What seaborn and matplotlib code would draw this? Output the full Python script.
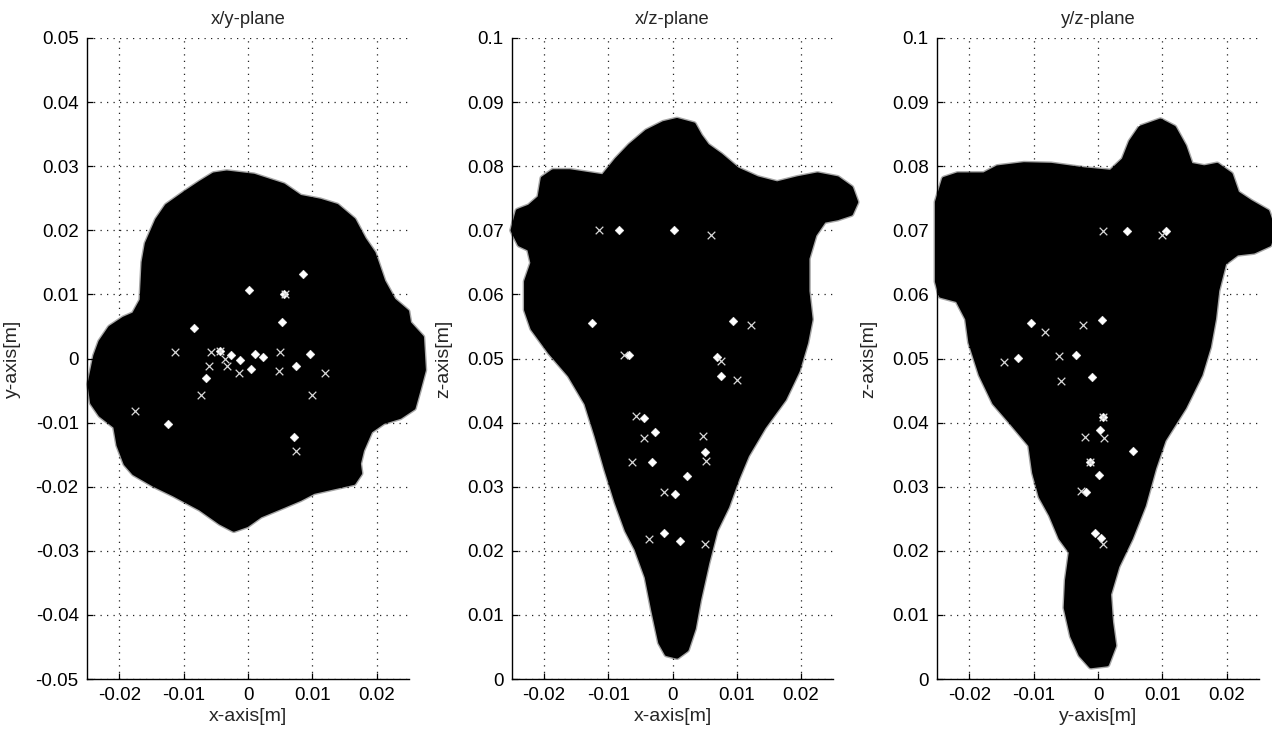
import numpy as np
import matplotlib
matplotlib.use('Agg')
import matplotlib.pyplot as plt
import seaborn as sns

# ---- outline of the point cloud in each projection ----
xy_cloud_x = [-0.0053, -0.0033, 0.0009, 0.0055, 0.0081, 0.0112, 0.0138, 0.0164, 0.0180, 0.0195,
              0.0210, 0.0226, 0.0247, 0.0250, 0.0270, 0.0273, 0.0265, 0.0257, 0.0236, 0.0210,
              0.0190, 0.0177, 0.0172, 0.0174, 0.0164, 0.0133, 0.0102, 0.0081, 0.0055, 0.0019,
              -0.0002, -0.0022, -0.0043, -0.0074, -0.0115, -0.0146, -0.0177, -0.0190, -0.0201, -0.0206,
              -0.0229, -0.0242, -0.0246, -0.0237, -0.0229, -0.0214, -0.0193, -0.0177, -0.0165, -0.0162,
              -0.0157, -0.0141, -0.0126, -0.0095, -0.0074]
xy_cloud_y = [0.0287, 0.0290, 0.0285, 0.0270, 0.0252, 0.0246, 0.0238, 0.0216, 0.0186, 0.0164,
              0.0120, 0.0091, 0.0073, 0.0055, 0.0033, -0.0018, -0.0048, -0.0077, -0.0091, -0.0099,
              -0.0113, -0.0143, -0.0164, -0.0179, -0.0194, -0.0201, -0.0208, -0.0219, -0.0230, -0.0245,
              -0.0260, -0.0267, -0.0256, -0.0234, -0.0212, -0.0197, -0.0179, -0.0164, -0.0135, -0.0106,
              -0.0088, -0.0069, -0.0040, 0.0004, 0.0026, 0.0048, 0.0062, 0.0069, 0.0091, 0.0150,
              0.0179, 0.0216, 0.0238, 0.0260, 0.0274]

xz_cloud_x = [-0.0014, 0.0007, 0.0033, 0.0043, 0.0054, 0.0075, 0.0101, 0.0132, 0.0163, 0.0195,
              0.0226, 0.0257, 0.0278, 0.0286, 0.0278, 0.0257, 0.0236, 0.0221, 0.0210, 0.0210,
              0.0215, 0.0208, 0.0195, 0.0174, 0.0142, 0.0116, 0.0101, 0.0085, 0.0067, 0.0054,
              0.0041, 0.0033, 0.0022, 0.0007, -0.0009, -0.0019, -0.0030, -0.0040, -0.0056, -0.0071,
              -0.0087, -0.0103, -0.0118, -0.0134, -0.0160, -0.0191, -0.0218, -0.0228, -0.0228, -0.0218,
              -0.0223, -0.0238, -0.0249, -0.0241, -0.0223, -0.0207, -0.0202, -0.0186, -0.0160, -0.0134,
              -0.0108, -0.0087, -0.0066, -0.0040]
xz_cloud_z = [0.0867, 0.0872, 0.0865, 0.0847, 0.0832, 0.0817, 0.0795, 0.0781, 0.0773, 0.0781,
              0.0787, 0.0781, 0.0766, 0.0744, 0.0726, 0.0719, 0.0715, 0.0693, 0.0656, 0.0605,
              0.0561, 0.0525, 0.0481, 0.0437, 0.0393, 0.0349, 0.0313, 0.0269, 0.0232, 0.0181,
              0.0123, 0.0079, 0.0046, 0.0035, 0.0039, 0.0057, 0.0108, 0.0159, 0.0203, 0.0232,
              0.0276, 0.0327, 0.0379, 0.0430, 0.0474, 0.0510, 0.0547, 0.0576, 0.0620, 0.0649,
              0.0671, 0.0678, 0.0700, 0.0730, 0.0737, 0.0751, 0.0781, 0.0792, 0.0792, 0.0788,
              0.0784, 0.0810, 0.0832, 0.0854]

yz_cloud_y = [0.0066, 0.0097, 0.0118, 0.0134, 0.0144, 0.0165, 0.0185, 0.0206, 0.0216, 0.0237,
              0.0263, 0.0273, 0.0266, 0.0242, 0.0216, 0.0196, 0.0185, 0.0180, 0.0172, 0.0159,
              0.0134, 0.0102, 0.0087, 0.0071, 0.0051, 0.0030, 0.0017, 0.0020, 0.0025, 0.0014,
              -0.0011, -0.0027, -0.0040, -0.0050, -0.0048, -0.0042, -0.0058, -0.0073, -0.0089, -0.0099,
              -0.0105, -0.0136, -0.0161, -0.0182, -0.0198, -0.0203, -0.0218, -0.0244, -0.0250, -0.0250,
              -0.0250, -0.0239, -0.0218, -0.0177, -0.0156, -0.0115, -0.0073, -0.0022, 0.0020, 0.0040,
              0.0051]
yz_cloud_z = [0.0860, 0.0871, 0.0860, 0.0831, 0.0802, 0.0798, 0.0802, 0.0787, 0.0758, 0.0744,
              0.0729, 0.0700, 0.0678, 0.0667, 0.0664, 0.0649, 0.0606, 0.0562, 0.0518, 0.0475,
              0.0424, 0.0373, 0.0329, 0.0271, 0.0220, 0.0176, 0.0132, 0.0089, 0.0052, 0.0023,
              0.0020, 0.0038, 0.0067, 0.0111, 0.0154, 0.0198, 0.0220, 0.0256, 0.0285, 0.0322,
              0.0365, 0.0402, 0.0431, 0.0475, 0.0525, 0.0562, 0.0591, 0.0598, 0.0620, 0.0700,
              0.0744, 0.0780, 0.0787, 0.0787, 0.0798, 0.0803, 0.0802, 0.0795, 0.0791, 0.0810,
              0.0838]

# ---- white diamonds (one set) and crosses (other set) ----
xy_dia_x = [0.0001, 0.0053, -0.0084, 0.0085, 0.0056, -0.0043, -0.0027, 0.0011, 0.0023, -0.0013,
            0.0005, 0.0096, 0.0075, -0.0065, -0.0124, 0.0071]
xy_dia_y = [0.0107, 0.0057, 0.0048, 0.0132, 0.0101, 0.0011, 0.0005, 0.0007, 0.0002, -0.0002,
            -0.0016, 0.0007, -0.0011, -0.0031, -0.0102, -0.0123]
xy_crs_x = [0.0058, -0.0114, -0.0057, -0.0043, -0.0036, -0.0061, -0.0032, -0.0014, 0.0050, 0.0048,
            0.0120, 0.0099, -0.0073, -0.0176, 0.0075]
xy_crs_y = [0.0101, 0.0010, 0.0010, 0.0012, 0.0000, -0.0011, -0.0011, -0.0022, 0.0010, -0.0019,
            -0.0022, -0.0057, -0.0057, -0.0082, -0.0144]

xz_dia_x = [-0.0083, 0.0002, -0.0126, 0.0095, -0.0068, 0.0070, 0.0076, -0.0045, -0.0027, 0.0050,
            -0.0032, 0.0022, 0.0004, -0.0014, 0.0011]
xz_dia_z = [0.0700, 0.0700, 0.0556, 0.0559, 0.0505, 0.0503, 0.0473, 0.0407, 0.0386, 0.0354,
            0.0338, 0.0317, 0.0289, 0.0228, 0.0216]
xz_crs_x = [-0.0115, 0.0060, 0.0122, -0.0075, 0.0076, 0.0101, -0.0057, -0.0044, 0.0047, 0.0052,
            -0.0063, -0.0014, -0.0037, 0.0050]
xz_crs_z = [0.0700, 0.0692, 0.0553, 0.0505, 0.0496, 0.0466, 0.0410, 0.0376, 0.0379, 0.0340,
            0.0338, 0.0292, 0.0219, 0.0211]

yz_dia_y = [0.0045, 0.0106, -0.0104, 0.0006, -0.0125, -0.0034, -0.0010, 0.0008, 0.0003, 0.0055,
            -0.0013, 0.0001, -0.0018, -0.0004, 0.0004]
yz_dia_z = [0.0699, 0.0699, 0.0555, 0.0560, 0.0501, 0.0506, 0.0471, 0.0408, 0.0389, 0.0355,
            0.0338, 0.0318, 0.0291, 0.0227, 0.0220]
yz_crs_y = [0.0008, 0.0100, -0.0024, -0.0082, -0.0060, -0.0146, -0.0058, -0.0020, 0.0010, -0.0013,
            -0.0026, 0.0008, 0.0008]
yz_crs_z = [0.0699, 0.0692, 0.0552, 0.0541, 0.0504, 0.0495, 0.0465, 0.0378, 0.0376, 0.0338,
            0.0293, 0.0211, 0.0408]

h_ticks = [-0.02, -0.01, 0, 0.01, 0.02]
h_ticklabels = ["-0.02", "-0.01", "0", "0.01", "0.02"]
xy_vticks = [-0.05, -0.04, -0.03, -0.02, -0.01, 0, 0.01, 0.02, 0.03, 0.04, 0.05]
xy_vticklabels = ["-0.05", "-0.04", "-0.03", "-0.02", "-0.01", "0", "0.01", "0.02", "0.03", "0.04", "0.05"]
z_ticks = [0, 0.01, 0.02, 0.03, 0.04, 0.05, 0.06, 0.07, 0.08, 0.09, 0.1]
z_ticklabels = ["0", "0.01", "0.02", "0.03", "0.04", "0.05", "0.06", "0.07", "0.08", "0.09", "0.1"]

sns.set_style("white")
plt.rcParams['font.family'] = ['Liberation Sans', 'DejaVu Sans']

fig = plt.figure(figsize=(12.72, 7.35), dpi=100)

panels = [
    dict(rect=[87 / 1272, 56 / 735, 322 / 1272, 641 / 735], title="x/y-plane",
         xlabel="x-axis[m]", ylabel="y-axis[m]",
         cloud=(xy_cloud_x, xy_cloud_y), dia=(xy_dia_x, xy_dia_y), crs=(xy_crs_x, xy_crs_y),
         ylim=(-0.05, 0.05), yticks=xy_vticks, yticklabels=xy_vticklabels, ylab_x=-0.205),
    dict(rect=[512 / 1272, 56 / 735, 321 / 1272, 641 / 735], title="x/z-plane",
         xlabel="x-axis[m]", ylabel="z-axis[m]",
         cloud=(xz_cloud_x, xz_cloud_z), dia=(xz_dia_x, xz_dia_z), crs=(xz_crs_x, xz_crs_z),
         ylim=(0, 0.1), yticks=z_ticks, yticklabels=z_ticklabels, ylab_x=-0.185),
    dict(rect=[937 / 1272, 56 / 735, 322 / 1272, 641 / 735], title="y/z-plane",
         xlabel="y-axis[m]", ylabel="z-axis[m]",
         cloud=(yz_cloud_y, yz_cloud_z), dia=(yz_dia_y, yz_dia_z), crs=(yz_crs_y, yz_crs_z),
         ylim=(0, 0.1), yticks=z_ticks, yticklabels=z_ticklabels, ylab_x=-0.185),
]

for p in panels:
    ax = fig.add_axes(p["rect"])
    ax.set_axisbelow(True)

    cx, cy = p["cloud"]
    # slightly fuzzy rim, then the solid body
    ax.fill(cx, cy, facecolor="none", edgecolor="black", linewidth=5, alpha=0.35,
            joinstyle="round", clip_on=False, zorder=2)
    ax.fill(cx, cy, facecolor="black", edgecolor="black", linewidth=3,
            joinstyle="round", clip_on=False, zorder=3)

    sns.scatterplot(x=p["dia"][0], y=p["dia"][1], marker="D", s=20, color="white",
                    edgecolor="white", linewidth=0.3, ax=ax, zorder=5)
    sns.scatterplot(x=p["crs"][0], y=p["crs"][1], marker="x", s=30, color="#d8d8d8",
                    linewidth=0.9, ax=ax, zorder=5)

    ax.set_xlim(-0.025, 0.025)
    ax.set_ylim(*p["ylim"])
    ax.set_xticks(h_ticks)
    ax.set_xticklabels(h_ticklabels)
    ax.set_yticks(p["yticks"])
    ax.set_yticklabels(p["yticklabels"])

    ax.grid(True, color="#222222", linestyle=(0, (1, 4.2)), linewidth=0.9)
    for side in ["top", "right"]:
        ax.spines[side].set_visible(False)
    for side in ["left", "bottom"]:
        ax.spines[side].set_color("black")
        ax.spines[side].set_linewidth(1.0)
    ax.tick_params(direction="in", length=4, width=0.9, colors="black",
                   labelsize=13.5, pad=6, bottom=True, left=True)

    ax.set_title(p["title"], fontsize=13.2, pad=10)
    ax.set_xlabel(p["xlabel"], fontsize=14)
    ax.set_ylabel(p["ylabel"], fontsize=14)
    ax.xaxis.set_label_coords(0.5, -0.045)
    ax.yaxis.set_label_coords(p["ylab_x"], 0.5)

fig.savefig("out.png", dpi=100)
plt.close('all')
